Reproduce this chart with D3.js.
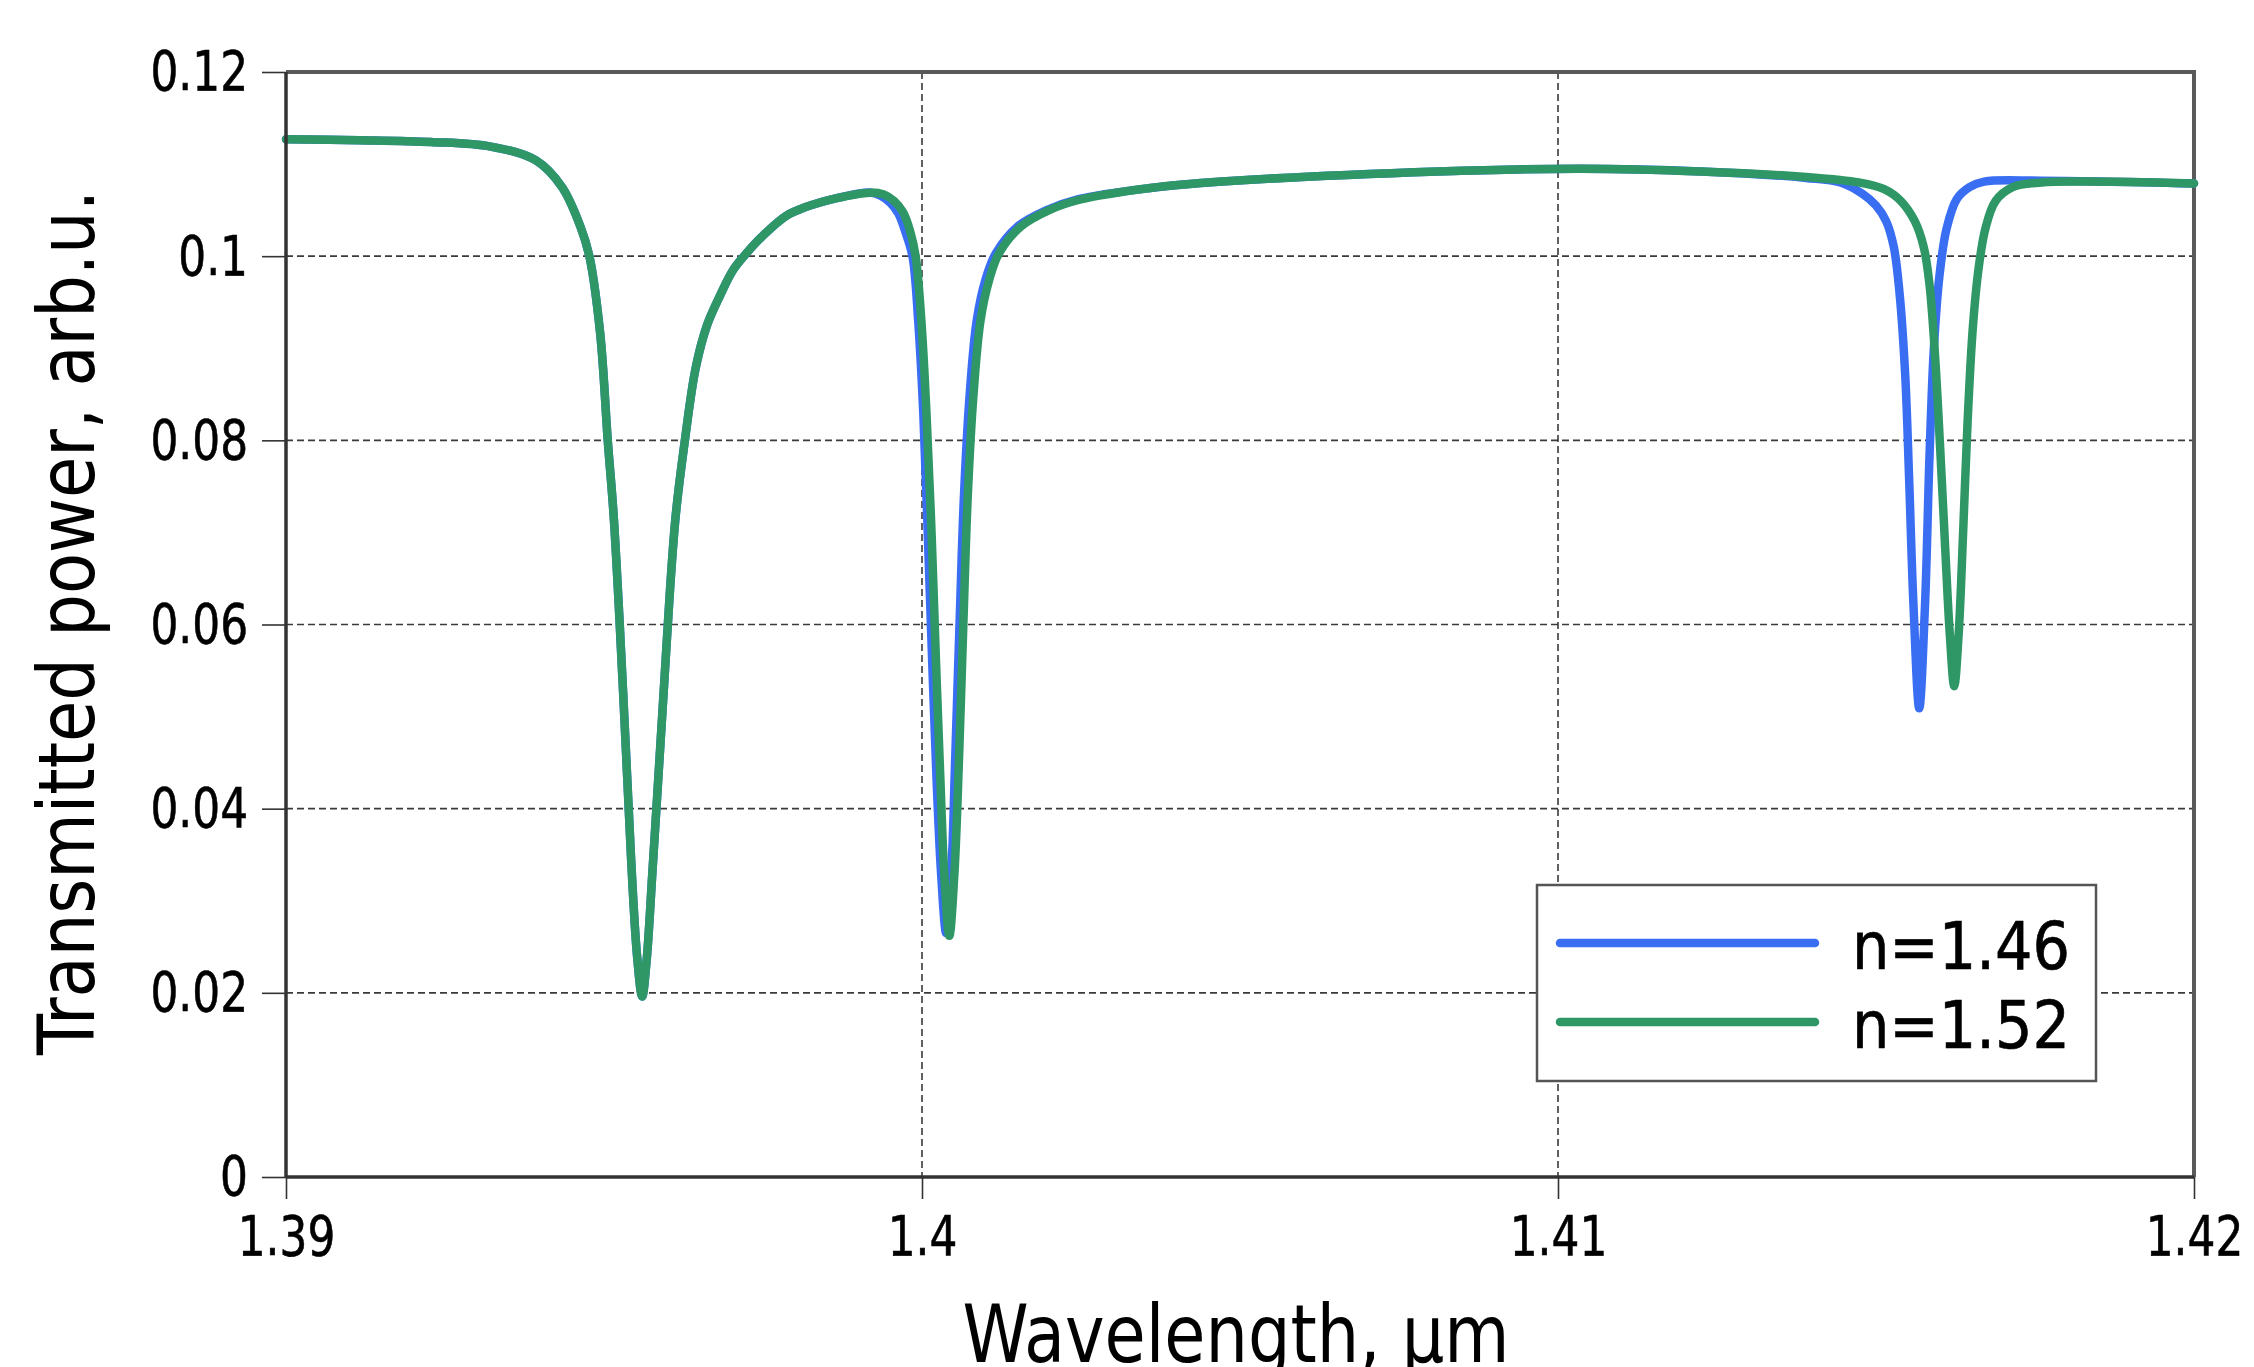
<!DOCTYPE html>
<html>
<head>
<meta charset="utf-8">
<script src="https://cdn.jsdelivr.net/npm/d3@7"></script>
<style>
  html, body { margin: 0; padding: 0; background: #ffffff; }
  svg { display: block; }
  text { font-family: "DejaVu Sans Condensed", "DejaVu Sans", sans-serif; font-stretch: condensed; fill: #000; }
</style>
</head>
<body>
<svg id="chart" width="2254" height="1367"></svg>
<script>
// ---- data (wavelength in µm, transmitted power in arb.u.) ----
const wavelengthGreen = [1.39000, 1.39115, 1.39228, 1.39322, 1.39393, 1.39434, 1.39463, 1.39477, 1.39494, 1.39506,
  1.39515, 1.39524, 1.39534, 1.39543, 1.39552, 1.39560, 1.39567, 1.39576, 1.39586, 1.39595,
  1.39604, 1.39613, 1.39627, 1.39644, 1.39662, 1.39683, 1.39703, 1.39725, 1.39748, 1.39787,
  1.39816, 1.39866, 1.39918,
  1.39940, 1.39956, 1.39970, 1.39981, 1.39990, 1.39999, 1.40007, 1.40015, 1.40022, 1.40029,
  1.40035, 1.40043, 1.40051, 1.40058, 1.40065, 1.40072, 1.40081, 1.40092, 1.40106, 1.40121,
  1.40155, 1.40200, 1.40246, 1.40359, 1.40472, 1.40811, 1.41037, 1.41225, 1.41390, 1.41473,
  1.41512, 1.41539, 1.41561, 1.41575, 1.41584, 1.41593, 1.41601, 1.41609, 1.41616, 1.41623,
  1.41630, 1.41637, 1.41644, 1.41652, 1.41661, 1.41672, 1.41688, 1.41715, 1.41760, 1.41828,
  1.42000];
const powerGreen = [0.1127, 0.1126, 0.1124, 0.1119, 0.1104, 0.1075, 0.1032, 0.1000, 0.0916, 0.0799,
  0.0720, 0.0610, 0.0470, 0.0340, 0.0240, 0.0196, 0.0235, 0.0330, 0.0440, 0.0540,
  0.0640, 0.0720, 0.0799, 0.0878, 0.0925, 0.0958, 0.0985, 0.1004, 0.1021, 0.1044,
  0.1053, 0.1063, 0.1069,
  0.1067, 0.1060, 0.1048, 0.1028, 0.1000, 0.0930, 0.0830, 0.0700, 0.0560, 0.0430,
  0.0330, 0.0262, 0.0330, 0.0450, 0.0600, 0.0740, 0.0850, 0.0930, 0.0975, 0.1003,
  0.1032, 0.1050, 0.1061, 0.1074, 0.1081, 0.1092, 0.1095, 0.1092, 0.1086, 0.1080,
  0.1073, 0.1060, 0.1038, 0.1010, 0.0970, 0.0890, 0.0790, 0.0680, 0.0590, 0.0533,
  0.0590, 0.0700, 0.0820, 0.0920, 0.0985, 0.1030, 0.1060, 0.1075, 0.1080, 0.1081,
  0.1079];

const wavelengthBlue = [1.39000, 1.39115, 1.39228, 1.39322, 1.39393, 1.39434, 1.39463, 1.39477, 1.39494, 1.39506,
  1.39515, 1.39524, 1.39534, 1.39543, 1.39552, 1.39560, 1.39567, 1.39576, 1.39586, 1.39595,
  1.39604, 1.39613, 1.39627, 1.39644, 1.39662, 1.39683, 1.39703, 1.39725, 1.39748, 1.39787,
  1.39816, 1.39866, 1.39918,
  1.39934, 1.39950, 1.39963, 1.39974, 1.39985, 1.39994, 1.40002, 1.40009, 1.40016, 1.40023,
  1.40030, 1.40038, 1.40046, 1.40052, 1.40059, 1.40066, 1.40075, 1.40086, 1.40100, 1.40116,
  1.40150, 1.40196, 1.40246, 1.40359, 1.40472, 1.40811, 1.41037, 1.41225, 1.41390, 1.41444,
  1.41478, 1.41500, 1.41516, 1.41528, 1.41537, 1.41546, 1.41552, 1.41559, 1.41568, 1.41577,
  1.41584, 1.41591, 1.41600, 1.41611, 1.41627, 1.41647, 1.41670, 1.41760, 1.42000];
const powerBlue = [0.1127, 0.1126, 0.1124, 0.1119, 0.1104, 0.1075, 0.1032, 0.1000, 0.0916, 0.0799,
  0.0720, 0.0610, 0.0470, 0.0340, 0.0240, 0.0196, 0.0235, 0.0330, 0.0440, 0.0540,
  0.0640, 0.0720, 0.0799, 0.0878, 0.0925, 0.0958, 0.0985, 0.1004, 0.1021, 0.1044,
  0.1053, 0.1063, 0.1069,
  0.1066, 0.1058, 0.1046, 0.1026, 0.1000, 0.0930, 0.0830, 0.0700, 0.0560, 0.0430,
  0.0330, 0.0265, 0.0330, 0.0450, 0.0600, 0.0740, 0.0850, 0.0930, 0.0975, 0.1003,
  0.1032, 0.1050, 0.1062, 0.1074, 0.1081, 0.1092, 0.1095, 0.1092, 0.1085, 0.1080,
  0.1068, 0.1055, 0.1038, 0.1010, 0.0960, 0.0870, 0.0760, 0.0620, 0.0509, 0.0620,
  0.0780, 0.0900, 0.0980, 0.1030, 0.1062, 0.1075, 0.1081, 0.1082, 0.1079];

const seriesNames = ["n=1.46", "n=1.52"];
const seriesColors = ["#3a6ef2", "#2f9766"];

const xTicks = [1.39, 1.40, 1.41, 1.42];
const xTickLabels = ["1.39", "1.4", "1.41", "1.42"];
const yTicks = [0, 0.02, 0.04, 0.06, 0.08, 0.10, 0.12];
const yTickLabels = ["0", "0.02", "0.04", "0.06", "0.08", "0.1", "0.12"];

const xTitle = "Wavelength, \u00b5m";
const yTitle = "Transmitted power, arb.u.";

// ---- layout ----
const svg = d3.select("#chart");
const L = 286, R = 2194, T = 72, B = 1177;
const x = d3.scaleLinear().domain([1.39, 1.42]).range([L, R]);
const y = d3.scaleLinear().domain([0, 0.12]).range([B, T]);

function squeeze(sel, k) {
  sel.each(function () {
    const len = this.getComputedTextLength();
    d3.select(this).attr("textLength", len * k).attr("lengthAdjust", "spacingAndGlyphs");
  });
}

// gridlines
const grid = svg.append("g").attr("stroke", "#3a3a3a").attr("stroke-width", 1.6).attr("stroke-dasharray", "7,4");
grid.selectAll("line.h").data(yTicks.slice(1, -1)).join("line")
  .attr("x1", L).attr("x2", R).attr("y1", d => y(d)).attr("y2", d => y(d));
grid.selectAll("line.v").data(xTicks.slice(1, -1)).join("line")
  .attr("y1", T).attr("y2", B).attr("x1", d => x(d)).attr("x2", d => x(d));

// top and right frame
svg.append("path")
  .attr("d", `M${L},${T}H${R}V${B}`)
  .attr("fill", "none").attr("stroke", "#5a5a5a").attr("stroke-width", 4);

// lines
const line = d3.line().x(d => x(d[0])).y(d => y(d[1])).curve(d3.curveCatmullRom.alpha(0.5));
const blueData = wavelengthBlue.map((w, i) => [w, powerBlue[i]]);
const greenData = wavelengthGreen.map((w, i) => [w, powerGreen[i]]);
svg.append("g").selectAll("path").data([blueData, greenData]).join("path")
  .attr("d", line)
  .attr("fill", "none")
  .attr("stroke", (d, i) => seriesColors[i])
  .attr("stroke-width", 8.5)
  .attr("stroke-linejoin", "round")
  .attr("stroke-linecap", "round");

// axes
const yAxis = svg.append("g").attr("transform", `translate(${L},0)`)
  .call(d3.axisLeft(y).tickValues(yTicks).tickFormat((d, i) => yTickLabels[i]).tickSize(24).tickPadding(14));
const xAxis = svg.append("g").attr("transform", `translate(0,${B})`)
  .call(d3.axisBottom(x).tickValues(xTicks).tickFormat((d, i) => xTickLabels[i]).tickSize(22).tickPadding(16));
[yAxis, xAxis].forEach(g => {
  g.select(".domain").attr("stroke", "#333").attr("stroke-width", 3.5);
  g.selectAll(".tick line").attr("stroke", "#333").attr("stroke-width", 1.6);
  g.selectAll(".tick text").attr("font-size", 56).attr("fill", "#000")
    .attr("stroke", "#000").attr("stroke-width", 0.6)
    .style("font-family", '"DejaVu Sans Condensed", "DejaVu Sans", sans-serif');
});
yAxis.select(".domain").attr("d", `M0,${T}V${B}`);
xAxis.select(".domain").attr("d", `M${L},0H${R}`);
squeeze(yAxis.selectAll(".tick text"), 0.87);
squeeze(xAxis.selectAll(".tick text"), 0.87);

// axis titles
svg.append("text")
  .attr("transform", `translate(94,${(T + B) / 2 - 2}) rotate(-90)`)
  .attr("text-anchor", "middle")
  .attr("font-size", 78)
  .attr("textLength", 865).attr("lengthAdjust", "spacingAndGlyphs")
  .text(yTitle);
svg.append("text")
  .attr("x", 1236).attr("y", 1362)
  .attr("text-anchor", "middle")
  .attr("font-size", 80)
  .attr("textLength", 547).attr("lengthAdjust", "spacingAndGlyphs")
  .text(xTitle);

// legend
const lg = svg.append("g");
lg.append("rect").attr("x", 1537).attr("y", 885).attr("width", 559).attr("height", 196)
  .attr("fill", "#fff").attr("stroke", "#555").attr("stroke-width", 2.5);
const rows = lg.selectAll("g.row").data(seriesNames).join("g")
  .attr("transform", (d, i) => `translate(0,${943 + i * 79})`);
rows.append("line").attr("x1", 1560).attr("x2", 1815).attr("y1", 0).attr("y2", 0)
  .attr("stroke", (d, i) => seriesColors[i]).attr("stroke-width", 8.5).attr("stroke-linecap", "round");
rows.append("text").attr("x", 1852).attr("y", 26).attr("font-size", 65)
  .attr("stroke", "#000").attr("stroke-width", 0.6)
  .attr("textLength", 218).attr("lengthAdjust", "spacingAndGlyphs")
  .text(d => d);
</script>
</body>
</html>
